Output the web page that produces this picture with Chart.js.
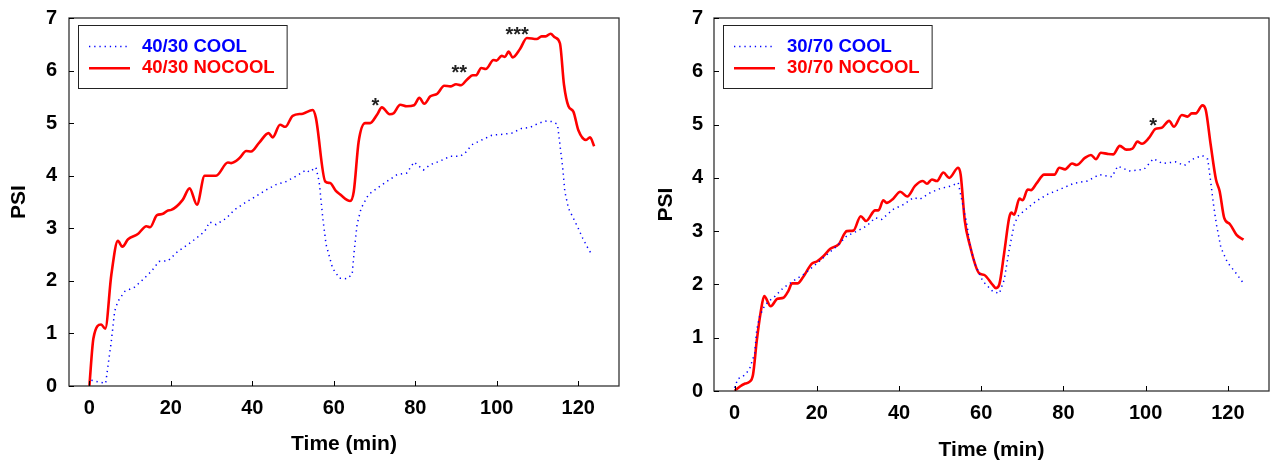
<!DOCTYPE html>
<html><head><meta charset="utf-8">
<script src="https://cdn.jsdelivr.net/npm/chart.js@4.4.1/dist/chart.umd.min.js"></script>
<style>
html,body{margin:0;padding:0;background:#fff;}
#wrap{position:relative;width:1270px;height:460px;background:#fff;}
canvas{position:absolute;top:0;}
</style></head><body>
<div id="wrap">
<canvas id="c1" width="635" height="460" style="left:0"></canvas>
<canvas id="c2" width="635" height="460" style="left:635px"></canvas>
</div>
<script>
// ---------- data ----------
const xTickValues = [0, 20, 40, 60, 80, 100, 120];
const yTickValues = [0, 1, 2, 3, 4, 5, 6, 7];

const leftLabels = ['40/30 COOL', '40/30 NOCOOL'];
const rightLabels = ['30/70 COOL', '30/70 NOCOOL'];

const leftCoolT = [0.5,2,4.0,4.6,5.4,6.2,7.0,8.7,11.1,13.1,15.2,17.1,19.3,21.7,24.2,26.2,28.3,29.5,31.1,33.6,35.6,38.1,40.9,43.4,45.8,48.3,50.7,53.2,54.0,55.6,56.4,57.3,58.1,59.7,61.4,63.2,64.5,65.0,65.7,66.7,68.5,70.6,73.0,75.5,77.9,79.7,82.0,83.7,86.1,88.6,91.0,92.2,93.9,96.3,98.8,101.6,103.7,106.1,108.2,109.8,111.8,113.5,114.9,115.5,116.2,116.7,117.6,118.8,120.0,121.1,122.1,123.3];
const leftCoolPSI = [0.11,0.08,0.05,0.40,0.86,1.42,1.61,1.80,1.88,2.02,2.18,2.37,2.38,2.56,2.69,2.81,2.94,3.12,3.07,3.19,3.35,3.48,3.61,3.73,3.83,3.89,3.99,4.11,4.07,4.16,3.89,3.19,2.69,2.24,2.05,2.04,2.12,2.56,3.07,3.38,3.64,3.76,3.89,4.02,4.05,4.26,4.11,4.21,4.28,4.37,4.37,4.43,4.59,4.68,4.77,4.79,4.81,4.90,4.92,4.98,5.04,5.03,4.98,4.59,4.14,3.70,3.38,3.19,3.00,2.81,2.66,2.50];

const leftNoCoolT = [0,1.0,2.9,3.9,5.4,7.0,8.1,9.5,11.9,14.0,14.9,16.6,17.9,19.3,20.1,22.9,24.6,26.4,28.3,31.1,34.0,34.8,36.8,38.5,39.7,41.7,44.0,45.0,46.8,48.1,49.9,52.4,54.8,55.6,57.9,59.1,60.5,61.6,64.0,64.9,66.1,67.7,68.9,70.6,71.8,73.7,74.7,76.3,77.9,79.7,81.0,82.2,83.7,85.4,87.1,88.6,90.0,91.2,92.6,94.1,94.9,96.2,97.3,99.2,99.9,101.2,102.0,102.9,103.9,105.7,107.4,109.8,111.0,112.0,113.2,114.3,115.5,116.5,117.6,118.8,120.0,121.9,122.9,123.9];
const leftNoCoolPSI = [0,0.91,1.17,1.09,2.12,2.76,2.65,2.79,2.89,3.04,3.02,3.25,3.27,3.34,3.35,3.54,3.76,3.45,4.0,4.0,4.25,4.24,4.33,4.47,4.46,4.63,4.81,4.73,4.97,4.93,5.14,5.18,5.25,5.10,3.89,3.86,3.71,3.64,3.52,3.70,4.65,5.0,5.0,5.16,5.30,5.17,5.19,5.35,5.32,5.34,5.48,5.37,5.51,5.56,5.71,5.70,5.74,5.72,5.82,5.91,5.91,6.05,6.03,6.20,6.19,6.28,6.26,6.36,6.25,6.41,6.62,6.60,6.65,6.65,6.70,6.63,6.52,5.73,5.32,5.22,4.87,4.68,4.73,4.56];

const rightCoolT = [0,0.8,2.0,3.6,4.9,5.4,6.1,7.3,8.5,9.5,11.9,15.0,17.0,19.2,21.6,24.9,27.3,29.8,32.2,34.2,35.8,38.6,41.1,43.5,45.1,47.6,50.0,52.8,54.4,55.5,56.5,57.4,58.5,60.4,62.8,64.4,65.6,66.8,68.0,68.9,70.9,73.3,76.1,79.0,82.6,85.8,88.7,91.8,93.2,96.0,99.6,101.9,104.1,107.3,109.4,111.4,113.8,115.1,115.8,116.5,117.2,118.3,119.9,121.9,123.7];
const rightCoolPSI = [0.06,0.23,0.27,0.40,0.71,1.15,1.40,1.60,1.70,1.75,1.94,2.10,2.20,2.34,2.50,2.72,2.91,3.00,3.10,3.25,3.22,3.41,3.50,3.63,3.60,3.72,3.80,3.85,3.91,3.50,3.13,2.68,2.38,2.06,1.87,1.83,2.09,2.65,3.12,3.28,3.41,3.56,3.69,3.78,3.90,3.94,4.06,4.02,4.22,4.13,4.16,4.36,4.27,4.30,4.23,4.35,4.42,4.35,3.94,3.50,3.13,2.69,2.41,2.22,2.03];

const rightNoCoolT = [0,1.4,2.6,3.6,4.5,5.4,6.4,7.2,8.8,10.4,11.9,13.1,14.0,15.3,16.6,18.8,20.0,21.6,23.3,25.3,27.3,28.9,30.7,32.0,34.2,35.0,36.2,37.0,38.6,40.3,42.0,43.9,45.8,46.8,48.0,49.2,50.8,52.2,54.4,55.0,56.0,57.1,59.5,60.7,62.8,63.6,64.4,65.6,66.8,67.3,68.0,69.3,70.1,71.3,72.1,73.5,75.3,77.8,79.0,80.4,82.1,83.2,85.3,86.7,87.9,89.1,90.7,92.1,93.7,95.3,96.8,98.0,99.1,100.8,102.4,103.9,105.7,106.9,108.8,110.2,111.2,112.2,113.8,114.6,115.8,117.1,118.0,119.1,120.5,122.1,123.8];
const rightNoCoolPSI = [0,0.09,0.14,0.17,0.31,0.94,1.50,1.78,1.59,1.73,1.75,1.88,2.02,2.02,2.13,2.39,2.43,2.53,2.67,2.75,3.00,3.01,3.28,3.19,3.39,3.39,3.58,3.53,3.61,3.74,3.65,3.85,3.94,3.89,3.97,3.94,4.10,4.00,4.19,4.06,3.20,2.78,2.21,2.18,1.99,1.93,2.00,2.60,3.25,3.35,3.31,3.61,3.58,3.78,3.77,3.90,4.06,4.06,4.19,4.16,4.27,4.24,4.38,4.43,4.35,4.47,4.45,4.44,4.60,4.53,4.55,4.68,4.64,4.75,4.92,4.94,5.07,4.96,5.18,5.15,5.21,5.21,5.36,5.28,4.63,3.97,3.75,3.25,3.13,2.93,2.84];

// significance markers
const leftStarX = [70.2, 90.8, 105.0];
const leftStarY = [5.44, 6.05, 6.79];
const leftStarText = ['*', '**', '***'];
const rightStarX = [101.8];
const rightStarY = [5.08];
const rightStarText = ['*'];

// ---------- styling ----------
const FONT = '"Liberation Sans", Arial, Helvetica, sans-serif';
const BLUE = '#0000ff';
const RED = '#ff0000';
const DOT = [1.3, 3.9];

function pts(t, v) { return t.map((x, i) => ({ x: x, y: v[i] })); }

function overlayPlugin(opts) {
  return {
    id: 'overlay',
    afterDraw(chart) {
      const ctx = chart.ctx, a = chart.chartArea;
      const xs = chart.scales.x, ys = chart.scales.y;
      ctx.save();
      // frame
      ctx.strokeStyle = '#333';
      ctx.lineWidth = 1.3;
      ctx.strokeRect(a.left, a.top, a.right - a.left, a.bottom - a.top);
      // inward tick marks
      ctx.strokeStyle = '#000';
      ctx.lineWidth = 1;
      ctx.beginPath();
      xs.ticks.forEach(t => {
        const px = Math.round(xs.getPixelForValue(t.value)) + 0.5;
        ctx.moveTo(px, a.bottom); ctx.lineTo(px, a.bottom - 5);
      });
      ys.ticks.forEach(t => {
        const py = Math.round(ys.getPixelForValue(t.value)) + 0.5;
        ctx.moveTo(a.left, py); ctx.lineTo(a.left + 5, py);
      });
      ctx.stroke();
      // axis titles
      ctx.fillStyle = '#000';
      ctx.font = 'bold 21px ' + FONT;
      ctx.textAlign = 'center';
      ctx.textBaseline = 'middle';
      ctx.fillText('Time (min)', (a.left + a.right) / 2, a.bottom + opts.xTitleOff);
      ctx.save();
      ctx.translate(a.left - opts.yTitleOff, (a.top + a.bottom) / 2);
      ctx.rotate(-Math.PI / 2);
      ctx.fillText('PSI', 0, 0);
      ctx.restore();
      // stars
      ctx.font = 'bold 20px ' + FONT;
      ctx.fillStyle = '#222';
      ctx.textBaseline = 'alphabetic';
      opts.starX.forEach((sx, i) => {
        ctx.fillText(opts.starText[i], xs.getPixelForValue(sx), ys.getPixelForValue(opts.starY[i]) + 11.5);
      });
      // legend
      ctx.font = 'bold 18.5px ' + FONT;
      const tw = Math.max(...opts.labels.map(l => ctx.measureText(l).width));
      const bx = a.left + 9, by = a.top + 7;
      const bw = 64 + tw + 12, bh = 63;
      ctx.fillStyle = '#fff';
      ctx.fillRect(bx, by, bw, bh);
      ctx.strokeStyle = '#222';
      ctx.lineWidth = 1;
      ctx.strokeRect(Math.round(bx) + 0.5, Math.round(by) + 0.5, bw, bh);
      const rows = [by + 21.5, by + 43.2];
      const cols = [BLUE, RED];
      rows.forEach((ry, i) => {
        ctx.beginPath();
        ctx.strokeStyle = cols[i];
        if (i === 0) { ctx.setLineDash(DOT); ctx.lineWidth = 1.5; }
        else { ctx.setLineDash([]); ctx.lineWidth = 2.5; }
        ctx.moveTo(bx + 11, ry); ctx.lineTo(bx + 52, ry);
        ctx.stroke();
        ctx.setLineDash([]);
        ctx.fillStyle = cols[i];
        ctx.textAlign = 'left';
        ctx.textBaseline = 'middle';
        ctx.fillText(opts.labels[i], bx + 64, ry);
      });
      ctx.restore();
    }
  };
}

function makeChart(id, cool, nocool, g) {
  return new Chart(document.getElementById(id), {
    type: 'line',
    data: {
      datasets: [
        { label: g.labels[0], data: cool, borderColor: BLUE, borderWidth: 1.5,
          borderDash: DOT, pointRadius: 0, tension: 0, fill: false },
        { label: g.labels[1], data: nocool, borderColor: RED, borderWidth: 2.6,
          pointRadius: 0, cubicInterpolationMode: 'monotone', fill: false }
      ]
    },
    options: {
      responsive: false,
      animation: false,
      events: [],
      layout: { padding: { left: 0, top: g.area.top, right: 635 - g.area.right, bottom: 0 } },
      plugins: { legend: { display: false }, tooltip: { enabled: false } },
      scales: {
        x: {
          type: 'linear', min: -5, max: 130,
          afterBuildTicks: s => { s.ticks = xTickValues.map(v => ({ value: v })); },
          afterFit: s => { s.height = 460 - g.area.bottom; s.paddingLeft = 0; s.paddingRight = 0; },
          grid: { display: false, drawTicks: false },
          border: { display: false },
          ticks: { color: '#000', padding: g.xPad, maxRotation: 0,
                   font: { family: FONT, size: 20, weight: 'bold' } }
        },
        y: {
          type: 'linear', min: 0, max: 7,
          afterBuildTicks: s => { s.ticks = yTickValues.map(v => ({ value: v })); },
          afterFit: s => { s.width = g.area.left; s.paddingTop = 0; s.paddingBottom = 0; },
          grid: { display: false, drawTicks: false },
          border: { display: false },
          ticks: { color: '#000', padding: g.yPad,
                   font: { family: FONT, size: 20, weight: 'bold' } }
        }
      }
    },
    plugins: [overlayPlugin(g)]
  });
}

makeChart('c1', pts(leftCoolT, leftCoolPSI), pts(leftNoCoolT, leftNoCoolPSI), {
  labels: leftLabels, area: { left: 69, top: 18, right: 619, bottom: 386 }, xPad: 10, yPad: 12,
  xTitleOff: 58, yTitleOff: 50,
  starX: leftStarX, starY: leftStarY, starText: leftStarText
});
makeChart('c2', pts(rightCoolT, rightCoolPSI), pts(rightNoCoolT, rightNoCoolPSI), {
  labels: rightLabels, area: { left: 79, top: 18, right: 634, bottom: 391 }, xPad: 10, yPad: 11,
  xTitleOff: 59, yTitleOff: 48,
  starX: rightStarX, starY: rightStarY, starText: rightStarText
});
</script>
</body></html>
